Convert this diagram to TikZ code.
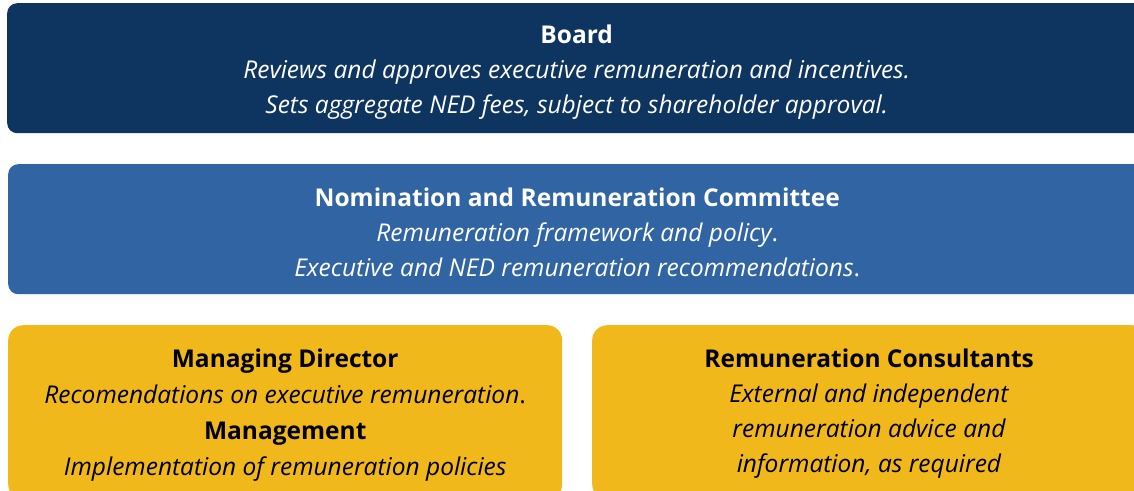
\documentclass[tikz,border=0pt]{standalone}
\usepackage{fontspec}
\setmainfont{Open Sans}
\definecolor{navy}{HTML}{0E355F}
\definecolor{midblue}{HTML}{3064A3}
\definecolor{gold}{HTML}{F0B81A}
\begin{document}
\begin{tikzpicture}[x=1pt,y=-1pt,
  box/.style={rounded corners=10pt,anchor=north west,inner sep=0pt},
  ybox/.style={box,fill=gold,rounded corners=15pt},
  txt/.style={inner sep=0pt,align=center,font=\fontsize{24.5}{35}\selectfont},
]
\useasboundingbox (0,0) rectangle (1134,490);
\clip (0,0) rectangle (1134,490);
\node[box,fill=navy,minimum width=1139pt,minimum height=130pt] (board) at (7,3) {};
\node[box,fill=midblue,minimum width=1138pt,minimum height=130pt] (nrc) at (8,164) {};
\node[ybox,minimum width=554pt,minimum height=174pt] (md) at (8,325) {};
\node[ybox,minimum width=554pt,minimum height=174pt] (rc) at (592,325) {};
\node[txt,text=white,yshift=-3.5pt] (boardt) at (board.center)
 {\textbf{Board}\\ \textit{Reviews and approves executive remuneration and incentives.}\\ \textit{Sets aggregate NED fees, subject to shareholder approval.}};
\node[txt,text=white,yshift=-3pt] (nrct) at (nrc.center)
 {\textbf{Nomination and Remuneration Committee}\\ \textit{Remuneration framework and policy}.\\ \textit{Executive and NED remuneration recommendations}.};
\node[txt,font=\fontsize{24.5}{36}\selectfont,yshift=-2.5pt] (mdt) at (md.center)
 {\textbf{Managing Director}\\ \textit{Recomendations on executive remuneration}.\\ \textbf{Management}\\ \textit{Implementation of remuneration policies}};
\node[txt,yshift=-1pt] (rct) at (rc.center)
 {\textbf{Remuneration Consultants}\\ \textit{External and independent}\\ \textit{remuneration advice and}\\ \textit{information, as required}};
\end{tikzpicture}
\end{document}
